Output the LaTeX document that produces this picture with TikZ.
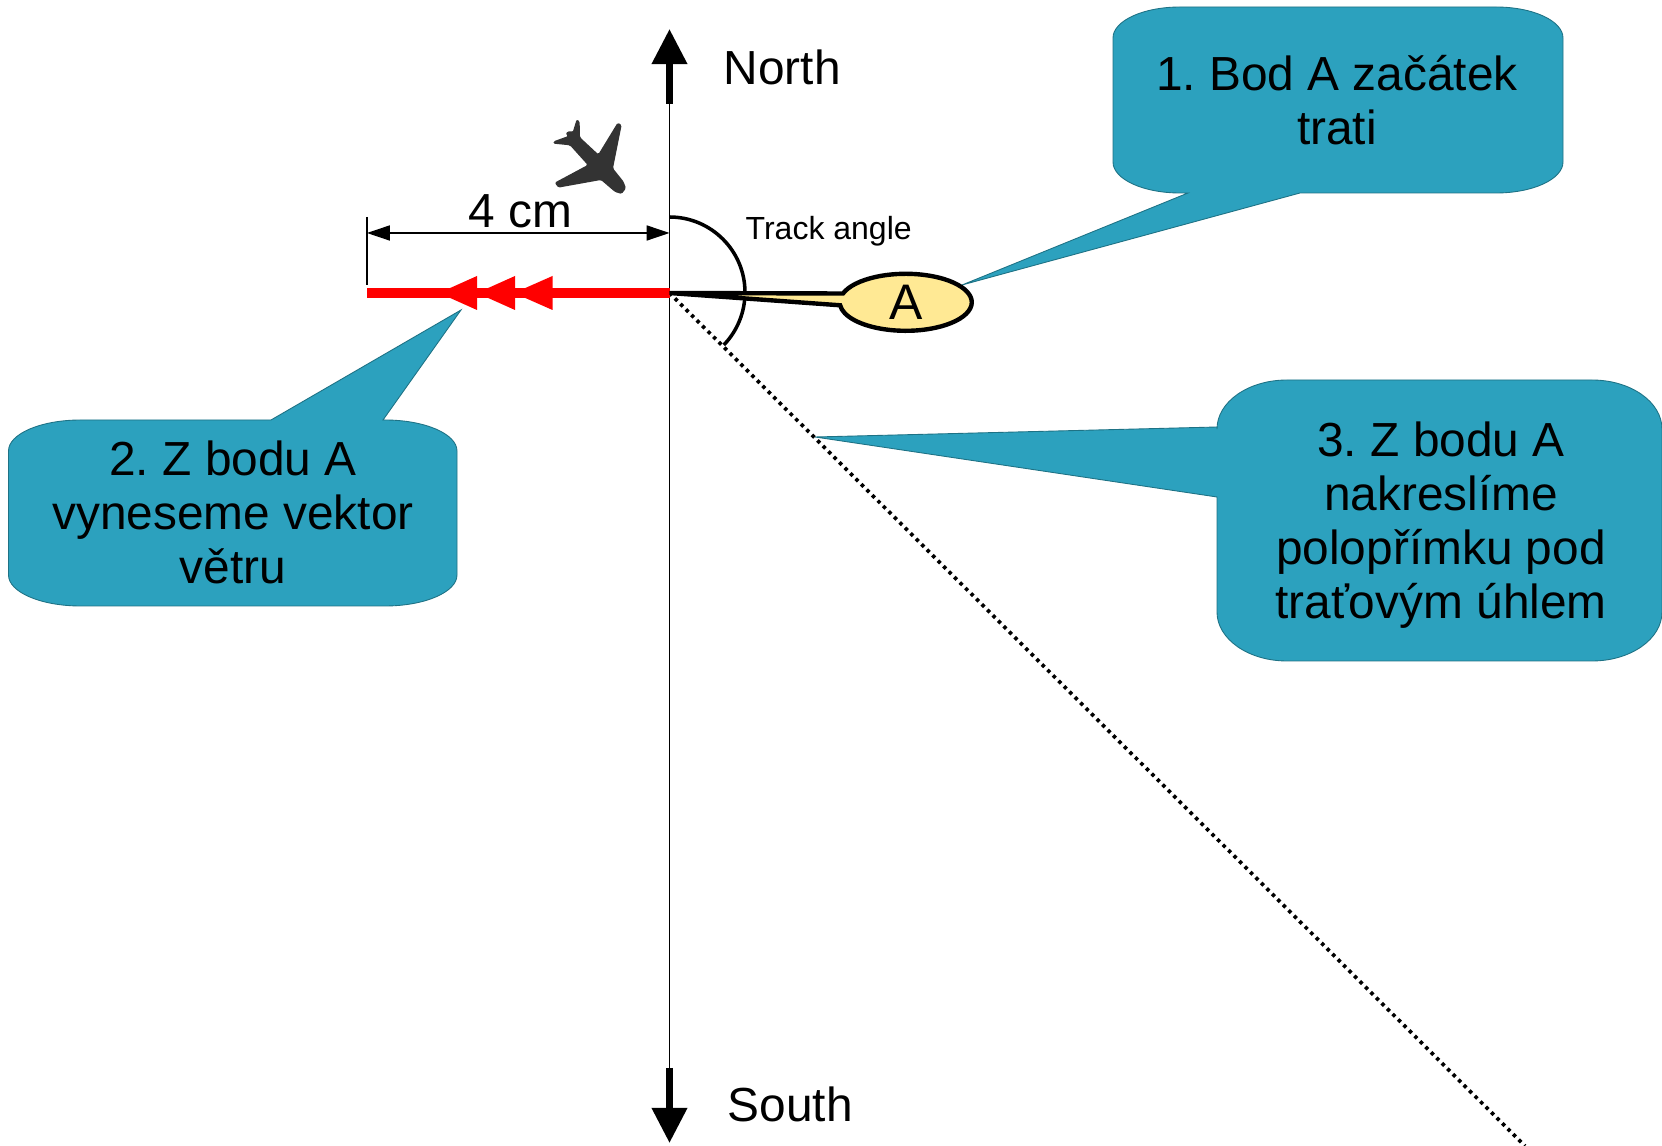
\documentclass[tikz,border=0pt]{standalone}
\usepackage{fontspec}
\setmainfont{Liberation Sans}
\frenchspacing
\usetikzlibrary{arrows.meta}

\definecolor{bubblefill}{HTML}{2CA1BE}
\definecolor{bubbleedge}{HTML}{1E7285}
\definecolor{pointfill}{HTML}{FFE994}
\definecolor{planegray}{HTML}{333333}

\tikzset{
  bubble/.style={fill=bubblefill, draw=bubbleedge, line width=0.25pt},
  bubbletext/.style={align=center, inner sep=0pt, font=\fontsize{13.6pt}{15.4pt}\selectfont},
  bigtext/.style={inner sep=0pt, anchor=base west, font=\fontsize{13.6pt}{15.4pt}\selectfont},
  compass/.style={line width=2pt, -{Triangle[length=10pt,width=9.7pt]}},
  windtip/.style={fill=red},
}

\begin{document}
\begin{tikzpicture}[x=0.01cm,y=-0.01cm]
\useasboundingbox (0,0) rectangle (1662,1146);

% Points
\coordinate (origin) at (669.5,293);
\coordinate (axistop) at (669.5,104);
\coordinate (axisbottom) at (669.5,1068);
\coordinate (northtip) at (669.5,29);
\coordinate (southtip) at (669.5,1143);
\coordinate (trackend) at (1525,1146);
\coordinate (windend) at (367,293);
\coordinate (dimleft) at (367,233);
\coordinate (dimright) at (669.5,233);
\coordinate (dimtop) at (367,217);
\coordinate (dimbottom) at (367,285);

% Callouts
\draw[bubble] (1113,38) arc[start angle=180,end angle=270,x radius=67,y radius=31]
  -- (1496,7) arc[start angle=270,end angle=360,x radius=67,y radius=31]
  -- (1563,162) arc[start angle=0,end angle=90,x radius=67,y radius=31]
  -- (1300,193) -- (962,285) -- (1188,193) -- (1180,193)
  arc[start angle=90,end angle=180,x radius=67,y radius=31] -- cycle;
\draw[bubble] (8.5,451) arc[start angle=180,end angle=270,x radius=72,y radius=31]
  -- (271,420) -- (461,310) -- (383,420) -- (385,420)
  arc[start angle=270,end angle=360,x radius=72,y radius=31]
  -- (457,575) arc[start angle=0,end angle=90,x radius=72,y radius=31]
  -- (80.5,606) arc[start angle=90,end angle=180,x radius=72,y radius=31] -- cycle;
\draw[bubble] (1217,429) arc[start angle=180,end angle=270,x radius=70,y radius=49]
  -- (1592,380) arc[start angle=270,end angle=360,x radius=70,y radius=49]
  -- (1662,612) arc[start angle=0,end angle=90,x radius=70,y radius=49]
  -- (1287,661) arc[start angle=90,end angle=180,x radius=70,y radius=49]
  -- (1217,497) -- (815,437) -- (1217,427) -- cycle;

% Callout texts
\node[bubbletext] (note1) at (1337,100) {1. Bod A začátek\\trati};
\node[bubbletext] (note2) at (233,512.5) {2. Z bodu A\\vyneseme vektor\\větru};
\node[bubbletext] (note3) at (1441,525) {3. Z bodu A\\nakreslíme\\polopřímku pod\\traťovým úhlem};

% Axis
\draw[line width=0.43pt] (axistop) -- (axisbottom);
\draw[compass] (axistop) -- (northtip);
\draw[compass] (axisbottom) -- (southtip);
\node[bigtext] (north) at (723,85) {North};
\node[bigtext] (south) at (727,1122) {South};

% Track line
\draw[line width=1.05pt, dash pattern=on 1pt off 1.2pt] (origin) -- (trackend);
\draw[line width=1pt] (669.5,217) arc[start angle=-90,end angle=44,radius=75.5];
\node[inner sep=0pt, anchor=base west, font=\fontsize{9.1pt}{11pt}\selectfont] (track) at (745,240) {Track angle};

% Wind vector
\draw[red, line width=2.6pt] (origin) -- (windend);
\fill[windtip] (439,293) -- (477,276) -- (477,310) -- cycle;
\fill[windtip] (477,293) -- (515,276) -- (515,310) -- cycle;
\fill[windtip] (514,293) -- (552.5,276) -- (552.5,310) -- cycle;

% Distance
\draw[line width=0.35pt] (dimtop) -- (dimbottom);
\draw[line width=0.35pt, {Triangle[length=6.5pt,width=4.3pt]}-{Triangle[length=6.5pt,width=4.3pt]}] (dimleft) -- (dimright);
\node[bigtext] (dist) at (468,228) {4 cm};

% Point A
\draw[fill=pointfill, line width=1.25pt] (origin) -- (843,293.5)
  arc[start angle=198,end angle=534,x radius=66,y radius=28.5] -- cycle;
\node[inner sep=0pt, anchor=base, font=\fontsize{14.2pt}{15.4pt}\selectfont] (pointA) at (906,320) {A};

% Plane
\fill[planegray, rounded corners=0.4pt, shift={(520,100)}, scale=0.3333]
  (170,58) -- (179,64) -- (180,112) -- (235,163) -- (293,68) -- (305,75) -- (279,205)
  -- (311,245) -- (318,265) -- (305,282) -- (285,276) -- (243,240) -- (115,263) -- (104,248)
  -- (203,195) -- (150,136) -- (100,131) -- (101,124) -- (145,108) -- (136,100) -- (150,92)
  -- (158,97) -- cycle;

\end{tikzpicture}
\end{document}
